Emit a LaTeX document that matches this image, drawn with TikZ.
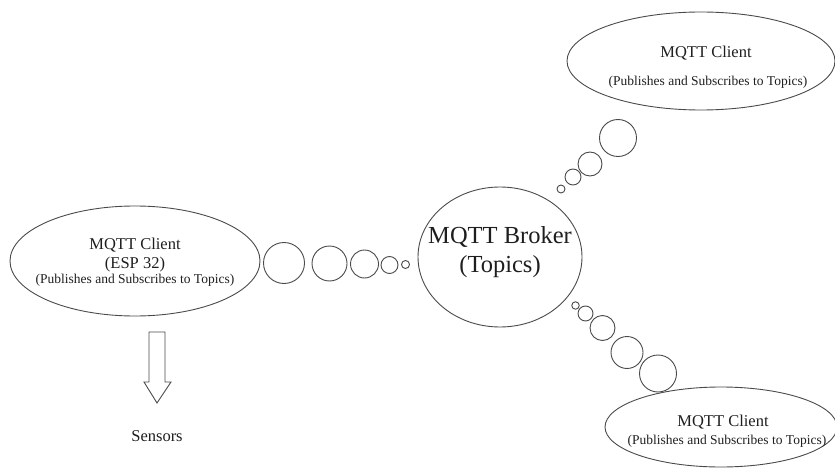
\documentclass[tikz,border=0pt]{standalone}
\usepackage{fontspec}
\setmainfont{Liberation Serif}
\usetikzlibrary{shapes.geometric}
\definecolor{lineg}{HTML}{4A4A4A}
\definecolor{textc}{HTML}{1E1E1E}
\begin{document}
\begin{tikzpicture}[x=1pt,y=-1pt,
  outline/.style={draw=lineg, line width=0.9pt},
  cloud/.style={outline, ellipse, inner sep=0pt},
  bubble/.style={outline, circle, inner sep=0pt},
  txt/.style={text=textc, inner sep=0pt, anchor=center},
  bigtxt/.style={txt, font=\fontsize{16.5}{19}\selectfont},
  smalltxt/.style={txt, font=\fontsize{13.5}{16}\selectfont},
  brokertxt/.style={txt, font=\fontsize{24.5}{28}\selectfont}]
\useasboundingbox (0,0) rectangle (835,468);

% broker
\node[cloud, minimum width=164pt, minimum height=140pt] (broker) at (500,257) {};
\node[brokertxt] (brokerA) at (500,237) {MQTT Broker};
\node[brokertxt] (brokerB) at (500,267) {(Topics)};

% ESP32 client on the left
\node[cloud, minimum width=250pt, minimum height=110pt] (esp) at (135,261) {};
\node[bigtxt] (espA) at (135,245) {MQTT Client};
\node[bigtxt] (espB) at (135,265) {(ESP 32)};
\node[smalltxt] (espC) at (135,280) {(Publishes and Subscribes to Topics)};

% upper client
\node[cloud, minimum width=268pt, minimum height=98pt] (top) at (701,61) {};
\node[bigtxt] (topA) at (706,53) {MQTT Client};
\node[smalltxt] (topB) at (708,82) {(Publishes and Subscribes to Topics)};

% lower client
\node[cloud, minimum width=232pt, minimum height=80pt] (bot) at (721,427) {};
\node[bigtxt] (botA) at (723,422) {MQTT Client};
\node[smalltxt] (botB) at (727,441) {(Publishes and Subscribes to Topics)};

% bubble chain: ESP32 client -- broker
\node[bubble, minimum size=41pt] (l1) at (284,263) {};
\node[bubble, minimum size=35pt] (l2) at (329.5,263.5) {};
\node[bubble, minimum size=28pt] (l3) at (364.5,264) {};
\node[bubble, minimum size=17pt] (l4) at (389.5,265) {};
\node[bubble, minimum size=8pt] (l5) at (405.5,264.5) {};

% bubble chain: broker -- upper client
\node[bubble, minimum size=8pt] (u1) at (561,189) {};
\node[bubble, minimum size=16pt] (u2) at (573,177) {};
\node[bubble, minimum size=24pt] (u3) at (590,164) {};
\node[bubble, minimum size=37pt] (u4) at (618,138) {};

% bubble chain: broker -- lower client
\node[bubble, minimum size=7.5pt] (d1) at (575.5,305.5) {};
\node[bubble, minimum size=15pt] (d2) at (585.5,313.5) {};
\node[bubble, minimum size=25pt] (d3) at (602.5,328) {};
\node[bubble, minimum size=32pt] (d4) at (627,352.5) {};
\node[bubble, minimum size=37pt] (d5) at (658,373.5) {};

% hollow arrow down to the sensors
\draw[outline, fill=white] (149,332) -- (165,332) -- (165,382) -- (171,382)
  -- (157,403) -- (144,382) -- (149,382) -- cycle;
\node[bigtxt] (sensors) at (157,436) {Sensors};
\end{tikzpicture}
\end{document}
